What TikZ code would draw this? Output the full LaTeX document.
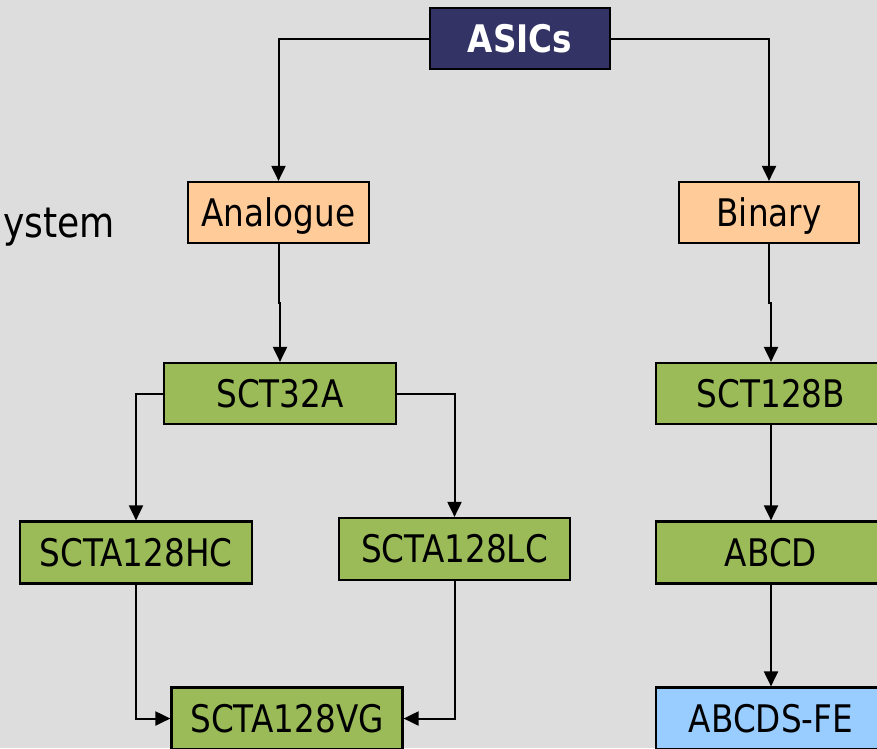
\documentclass[tikz,border=0pt]{standalone}
\usepackage{fontspec}
\setmainfont{DejaVu Sans}[FakeStretch=0.86]
\usetikzlibrary{arrows.meta}
\definecolor{bgc}{HTML}{DDDDDD}
\definecolor{navy}{HTML}{333366}
\definecolor{peach}{HTML}{FFCC99}
\definecolor{leaf}{HTML}{9BBB59}
\definecolor{sky}{HTML}{99CCFF}
\tikzset{
  box/.style={draw=black, line width=2.2pt, inner sep=0pt, text height=27.7pt, text depth=0pt,
    font=\fontsize{38}{40}\selectfont, minimum height=61pt},
  topbox/.style={box, fill=navy, text=white, font=\fontsize{38}{40}\selectfont\bfseries},
  catbox/.style={box, fill=peach},
  chipbox/.style={box, fill=leaf},
  febox/.style={box, fill=sky},
  arr/.style={draw=black, line width=2pt, -{Triangle[length=15pt,width=14pt]}},
}
\begin{document}
\begin{tikzpicture}[x=1pt,y=-1pt]
\useasboundingbox (0,0) rectangle (877,748);
\clip (0,0) rectangle (877,748);
\fill[bgc] (0,0) rectangle (877,748);

\node[anchor=base east, inner sep=0pt, font=\fontsize{42}{44}\selectfont] (sys) at (115,237) {ystem};

\node[topbox, minimum width=180pt] (asics) at (520,38.5) {ASICs};
\node[catbox, minimum width=181pt] (analogue) at (278.5,212.5) {Analogue};
\node[catbox, minimum width=180pt] (binary) at (769,212.5) {Binary};
\node[chipbox, minimum width=232pt] (sct32a) at (280,393.5) {SCT32A};
\node[chipbox, minimum width=230pt] (sct128b) at (771,393.5) {SCT128B};
\node[chipbox, minimum width=232pt, minimum height=62pt] (hc) at (136,552.5) {SCTA128HC};
\node[chipbox, minimum width=231pt, minimum height=62pt] (lc) at (454.5,549) {SCTA128LC};
\node[chipbox, minimum width=231pt, minimum height=62pt] (vg) at (287,718.5) {SCTA128VG};
\node[chipbox, minimum width=230pt, minimum height=62pt] (abcd) at (771,552.5) {ABCD};
\node[febox, minimum width=230pt, minimum height=62pt] (abcdsfe) at (771,718.5) {ABCDS-FE};

\coordinate (jogA) at (278.5,303);
\coordinate (jogB) at (769,303);

\draw[arr] (asics.west) -| (analogue.north);
\draw[arr] (asics.east) -| (binary.north);
\draw[arr] (analogue.south) -- (jogA) -| (sct32a.north);
\draw[arr] (binary.south) -- (jogB) -| (sct128b.north);
\draw[arr] (sct32a.west) -| (hc.north);
\draw[arr] (sct32a.east) -| (lc.north);
\draw[arr] (hc.south) |- (vg.west);
\draw[arr] (lc.south) |- (vg.east);
\draw[arr] (sct128b.south) -- (abcd.north);
\draw[arr] (abcd.south) -- (abcdsfe.north);
\end{tikzpicture}
\end{document}
